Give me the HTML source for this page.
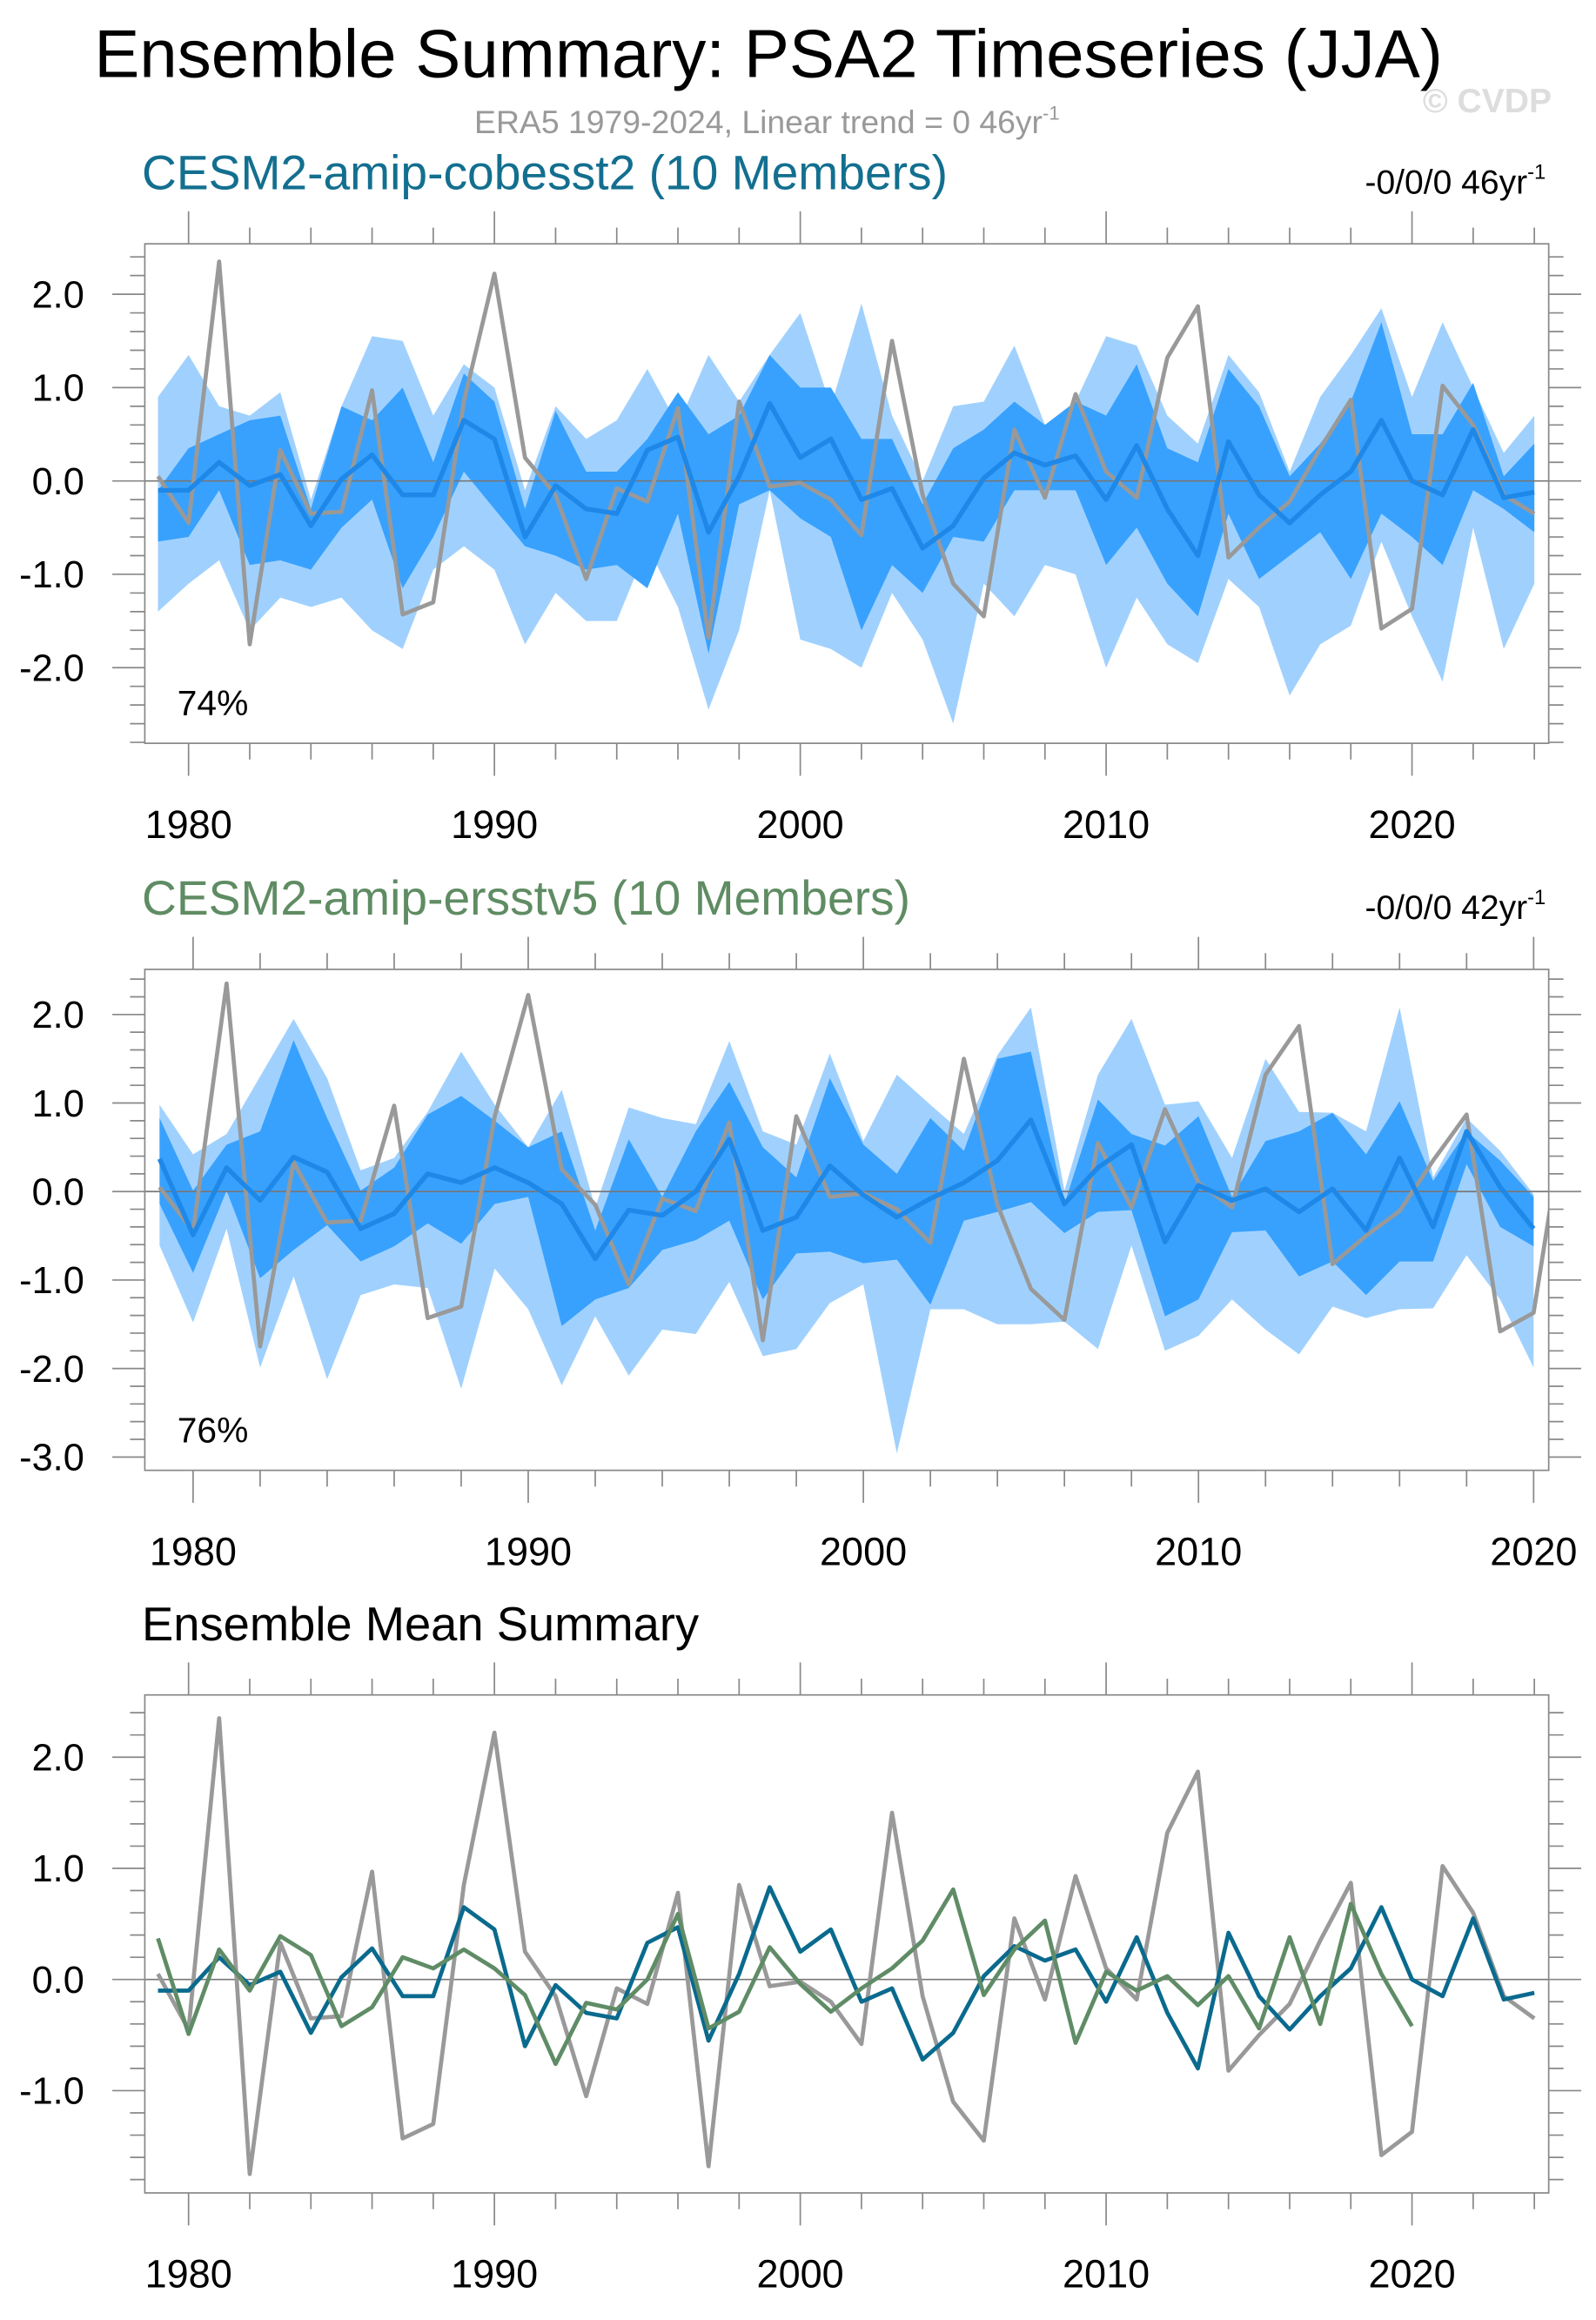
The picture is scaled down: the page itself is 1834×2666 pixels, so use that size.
<!DOCTYPE html>
<html><head><meta charset="utf-8"><style>
html,body{margin:0;padding:0;background:#fff;}
svg{display:block;font-family:"Liberation Sans",sans-serif;}
</style></head><body>
<svg id="chart" xmlns="http://www.w3.org/2000/svg" width="1834" height="2666" viewBox="0 0 1080 1570" preserveAspectRatio="none">
<text x="520" y="52" font-size="46" text-anchor="middle" fill="#000">Ensemble Summary: PSA2 Timeseries (JJA)</text>
<text x="519" y="90" font-size="22" text-anchor="middle" fill="#999">ERA5 1979-2024, Linear trend = 0 46yr<tspan dy="-9" font-size="13">-1</tspan></text>
<text x="1050" y="76" font-size="23" font-weight="bold" text-anchor="end" fill="#ddd">© CVDP</text>
<text x="96" y="128" font-size="32.5" fill="#136f8f">CESM2-amip-cobesst2 (10 Members)</text>
<text x="1046" y="131" font-size="23" text-anchor="end" fill="#000">-0/0/0 46yr<tspan dy="-10" font-size="14">-1</tspan></text>
<text x="96" y="619" font-size="32.5" fill="#5f8c63">CESM2-amip-ersstv5 (10 Members)</text>
<text x="1046" y="622" font-size="23" text-anchor="end" fill="#000">-0/0/0 42yr<tspan dy="-10" font-size="14">-1</tspan></text>
<text x="96" y="1110" font-size="32" fill="#000">Ensemble Mean Summary</text>
</svg>
<script>
const obsYears = [1979,1980,1981,1982,1983,1984,1985,1986,1987,1988,1989,1990,1991,1992,1993,1994,1995,1996,1997,1998,1999,2000,2001,2002,2003,2004,2005,2006,2007,2008,2009,2010,2011,2012,2013,2014,2015,2016,2017,2018,2019,2020,2021,2022,2023,2024];
const obsValues = [0.05,-0.45,2.35,-1.75,0.33,-0.35,-0.33,0.97,-1.43,-1.3,0.85,2.22,0.25,-0.15,-1.05,-0.08,-0.22,0.78,-1.68,0.85,-0.06,-0.02,-0.2,-0.58,1.5,-0.15,-1.1,-1.45,0.55,-0.18,0.93,0.1,-0.18,1.32,1.87,-0.82,-0.5,-0.22,0.35,0.87,-1.58,-1.37,1.02,0.6,-0.15,-0.35];
const cobMean = [-0.1,-0.1,0.2,-0.05,0.07,-0.48,0.02,0.28,-0.15,-0.15,0.65,0.45,-0.6,-0.05,-0.3,-0.35,0.33,0.47,-0.55,0.05,0.83,0.25,0.45,-0.2,-0.08,-0.72,-0.48,0.03,0.3,0.17,0.27,-0.2,0.38,-0.3,-0.8,0.42,-0.15,-0.45,-0.15,0.1,0.65,0,-0.15,0.55,-0.18,-0.12];
const cobMax = [0.9,1.35,0.8,0.7,0.95,-0.2,0.8,1.55,1.5,0.7,1.25,1.0,-0.1,0.8,0.45,0.65,1.2,0.6,1.35,0.85,1.35,1.8,0.8,1.9,0.7,0.0,0.8,0.85,1.45,0.6,0.85,1.55,1.45,0.7,0.4,1.35,0.95,0.1,0.9,1.35,1.85,0.9,1.7,1.0,0.3,0.7];
const cobHi = [-0.1,0.35,0.5,0.65,0.7,-0.3,0.8,0.65,1.0,0.2,1.15,0.85,-0.3,0.75,0.1,0.1,0.45,0.95,0.5,0.7,1.35,1.0,1.0,0.45,0.45,-0.25,0.35,0.55,0.85,0.6,0.85,0.7,1.25,0.35,0.2,1.2,0.8,0.05,0.4,0.85,1.7,0.5,0.5,1.05,0.05,0.4];
const cobLo = [-0.65,-0.6,-0.1,-0.9,-0.85,-0.95,-0.5,-0.2,-1.15,-0.6,0.1,-0.3,-0.7,-0.8,-0.95,-0.9,-1.15,-0.35,-1.85,-0.25,-0.1,-0.4,-0.6,-1.6,-0.9,-1.2,-0.6,-0.65,-0.1,-0.1,-0.1,-0.9,-0.5,-1.1,-1.45,-0.35,-1.05,-0.8,-0.55,-1.05,-0.35,-0.6,-0.9,-0.1,-0.3,-0.55];
const cobMin = [-1.4,-1.1,-0.85,-1.6,-1.25,-1.35,-1.25,-1.6,-1.8,-0.95,-0.7,-0.95,-1.75,-1.2,-1.5,-1.5,-0.7,-1.35,-2.45,-1.6,-0.1,-1.7,-1.8,-2.0,-1.2,-1.7,-2.6,-1.1,-1.45,-0.9,-1.0,-2.0,-1.25,-1.75,-1.95,-1.05,-1.35,-2.3,-1.75,-1.55,-0.65,-1.45,-2.15,-0.5,-1.8,-1.1];
const ersYears = [1979,1980,1981,1982,1983,1984,1985,1986,1987,1988,1989,1990,1991,1992,1993,1994,1995,1996,1997,1998,1999,2000,2001,2002,2003,2004,2005,2006,2007,2008,2009,2010,2011,2012,2013,2014,2015,2016,2017,2018,2019,2020];
const ersMean = [0.37,-0.49,0.27,-0.1,0.39,0.22,-0.42,-0.25,0.2,0.1,0.27,0.1,-0.14,-0.76,-0.21,-0.27,0,0.59,-0.44,-0.29,0.29,-0.04,-0.29,-0.08,0.1,0.35,0.81,-0.14,0.27,0.53,-0.57,0.07,-0.1,0.03,-0.23,0.03,-0.44,0.38,-0.4,0.68,0.05,-0.42];
const ersMax = [0.98,0.42,0.65,1.3,1.95,1.28,0.24,0.38,0.9,1.58,0.98,0.5,1.15,-0.18,0.95,0.83,0.76,1.7,0.68,0.53,1.56,0.57,1.32,0.98,0.65,1.54,2.08,0.01,1.32,1.95,0.98,1.02,0.38,1.5,0.9,0.89,0.68,2.08,0.16,0.83,0.46,-0.03];
const ersHi = [0.83,0.01,0.53,0.68,1.71,0.83,0.01,0.27,0.87,1.08,0.8,0.5,0.68,-0.44,0.59,-0.06,0.68,1.24,0.5,0.16,1.28,0.53,0.2,0.83,0.46,1.5,1.58,-0.14,1.04,0.65,0.52,0.85,-0.06,0.57,0.68,0.89,0.42,1.02,0.12,0.68,0.35,-0.06];
const ersLo = [-0.14,-0.92,0.01,-0.98,-0.66,-0.38,-0.79,-0.62,-0.36,-0.59,-0.14,-0.06,-1.52,-1.22,-1.09,-0.66,-0.55,-0.33,-1.22,-0.7,-0.68,-0.81,-0.77,-1.28,-0.33,-0.23,-0.12,-0.47,-0.23,-0.21,-1.41,-1.22,-0.46,-0.44,-0.96,-0.79,-1.17,-0.79,-0.79,0.31,-0.4,-0.62];
const ersMin = [-0.61,-1.48,-0.42,-1.99,-0.96,-2.12,-1.17,-1.05,-1.09,-2.23,-0.87,-1.33,-2.19,-1.41,-2.08,-1.56,-1.61,-1.02,-1.86,-1.78,-1.26,-1.05,-2.96,-1.33,-1.33,-1.5,-1.5,-1.47,-1.78,-0.61,-1.8,-1.63,-1.22,-1.56,-1.84,-1.3,-1.43,-1.33,-1.32,-0.72,-1.22,-1.99];
const yTicks1 = [2,1,0,-1,-2];
const yTicks2 = [2,1,0,-1,-2,-3];
const yTicks3 = [2,1,0,-1];
const xTicks = [1980,1990,2000,2010,2020];

const svg = document.getElementById('chart');
const NS = 'http://www.w3.org/2000/svg';
function mk(tag, attrs, parent){const e=document.createElementNS(NS,tag);for(const k in attrs)e.setAttribute(k,attrs[k]);(parent||svg).appendChild(e);return e;}

function panel(p){
  const L=98,R=1048;
  const sx=v=>L+(v-p.x0)/(p.x1-p.x0)*(R-L);
  const sy=v=>p.top+(p.y1-v)/(p.y1-p.y0)*(p.bot-p.top);
  const g=mk('g',{});
  
  
  const clipId=p.name+'-clip';
  const cp=mk('clipPath',{id:clipId},g); mk('rect',{x:L,y:p.top,width:R-L,height:p.bot-p.top},cp);
  const plot=mk('g',{'clip-path':'url(#'+clipId+')'},g);
  function band(xs,lo,hi,fill,nm){
    let d='M'+xs.map((x,i)=>sx(x)+','+sy(hi[i])).join('L');
    d+='L'+xs.map((x,i)=>sx(x)+','+sy(lo[i])).reverse().join('L')+'Z';
    const e=mk('path',{d:d,fill:fill},plot);
    
    
  }
  function line(xs,ys,col,w,nm){
    const e=mk('polyline',{points:xs.map((x,i)=>sx(x)+','+sy(ys[i])).join(' '),fill:'none',stroke:col,'stroke-width':w,'stroke-linejoin':'round'},plot);
    
    
  }
  if(p.bands){
    band(p.years,p.bands[0],p.bands[3],'#a0d1fe',p.name+'-minmax-band');
    band(p.years,p.bands[1],p.bands[2],'#38a1fe',p.name+'-percentile-band');
  }
  mk('line',{x1:L,x2:R,y1:sy(0),y2:sy(0),stroke:'#777','stroke-width':1},plot);
  p.lines.forEach(l=>line(l.x,l.y,l.c,l.w,l.n));
  mk('rect',{x:L,y:p.top,width:R-L,height:p.bot-p.top,fill:'none',stroke:'#888','stroke-width':1},g);
  for(let v=Math.ceil(p.y0*5)/5; v<=p.y1+1e-9; v+=0.2){
    const vv=Math.round(v*5)/5; const maj=Math.abs(vv-Math.round(vv))<1e-6; const len=maj?22:10;
    mk('line',{x1:L-len,x2:L,y1:sy(vv),y2:sy(vv),stroke:'#888','stroke-width':1},g);
    mk('line',{x1:R,x2:R+len,y1:sy(vv),y2:sy(vv),stroke:'#888','stroke-width':1},g);
  }
  p.yt.forEach(v=>{const t=mk('text',{x:57,y:sy(v)+9,'font-size':25.5,'text-anchor':'end',fill:'#000'},g);t.textContent=v.toFixed(1);
    
    });
  for(let yr=Math.ceil(p.x0); yr<=p.x1; yr++){
    if(yr%2) continue; const maj=yr%10===0; const len=maj?22:11;
    mk('line',{x1:sx(yr),x2:sx(yr),y1:p.top-len,y2:p.top,stroke:'#888','stroke-width':1},g);
    mk('line',{x1:sx(yr),x2:sx(yr),y1:p.bot,y2:p.bot+len,stroke:'#888','stroke-width':1},g);
  }
  xTicks.forEach(v=>{if(v>p.x1)return;const t=mk('text',{x:sx(v),y:p.bot+64,'font-size':26.5,'text-anchor':'middle',fill:'#000'},g);t.textContent=v;
    
    });
  if(p.pct){const t=mk('text',{x:120,y:p.bot-19,'font-size':24,fill:'#000'},g);t.textContent=p.pct;
    
    }
}
panel({name:'panel-cobesst2',top:165,bot:503,x0:1978.57,x1:2024.47,y0:-2.81,y1:2.54,yt:yTicks1,pct:'74%',
  years:obsYears,bands:[cobMin,cobLo,cobHi,cobMax],
  lines:[{x:obsYears,y:obsValues,c:'#999',w:2.8,n:'obs-line'},{x:obsYears,y:cobMean,c:'#1e88e8',w:3.2,n:'ensemble-mean-line'}]});
panel({name:'panel-ersstv5',top:656,bot:995,x0:1978.56,x1:2020.45,y0:-3.15,y1:2.51,yt:yTicks2,pct:'76%',
  years:ersYears,bands:[ersMin,ersLo,ersHi,ersMax],
  lines:[{x:obsYears,y:obsValues,c:'#999',w:2.8,n:'obs-line'},{x:ersYears,y:ersMean,c:'#1e88e8',w:3.2,n:'ensemble-mean-line'}]});
panel({name:'panel-ensemble-mean',top:1147,bot:1484,x0:1978.57,x1:2024.47,y0:-1.92,y1:2.56,yt:yTicks3,
  lines:[{x:obsYears,y:obsValues,c:'#999',w:2.8,n:'obs-line'},{x:obsYears,y:cobMean,c:'#0a6a8e',w:2.8,n:'cobesst2-mean-line'},{x:ersYears,y:ersMean,c:'#5f8c66',w:2.8,n:'ersstv5-mean-line'}]});
</script>
</body></html>
